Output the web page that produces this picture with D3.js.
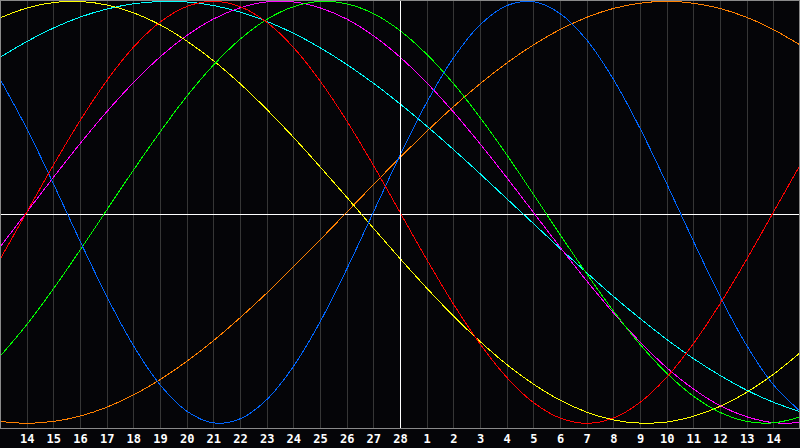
<!DOCTYPE html>
<html><head><meta charset="utf-8">
<script src="https://cdn.jsdelivr.net/npm/d3@7/dist/d3.min.js"></script>
<style>
html,body{margin:0;padding:0;background:#050508;}
svg{display:block;}
</style></head>
<body>
<svg id="chart" width="800" height="448"></svg>
<script>
// Day labels along the bottom (index 0..30, one per day column)
const dayLabels = [13,14,15,16,17,18,19,20,21,22,23,24,25,26,27,28,1,2,3,4,5,6,7,8,9,10,11,12,13,14,15];
const labelIdx = d3.range(1, 30);
const todayIdx = 15;

// Values, one per day, range -1..1
const red = [-0.223,0.000,0.223,0.434,0.623,0.782,0.901,0.975,1.000,0.975,0.901,0.782,0.623,0.434,0.223,0.000,-0.223,-0.434,-0.623,-0.782,-0.901,-0.975,-1.000,-0.975,-0.901,-0.782,-0.623,-0.434,-0.223,0.000,0.223];
const blue = [0.631,0.398,0.136,-0.136,-0.398,-0.631,-0.817,-0.942,-0.998,-0.979,-0.888,-0.731,-0.520,-0.270,0.000,0.270,0.520,0.731,0.888,0.979,0.998,0.942,0.817,0.631,0.398,0.136,-0.136,-0.398,-0.631,-0.817,-0.942];
const green = [-0.683,-0.533,-0.363,-0.180,0.010,0.199,0.380,0.549,0.697,0.820,0.914,0.974,0.999,0.988,0.942,0.861,0.749,0.611,0.450,0.273,0.086,-0.105,-0.291,-0.467,-0.626,-0.762,-0.871,-0.948,-0.991,-0.998,-0.970];
const magenta = [-0.165,0.000,0.165,0.325,0.476,0.614,0.736,0.837,0.916,0.969,0.997,0.997,0.969,0.916,0.837,0.736,0.614,0.476,0.325,0.165,0.000,-0.165,-0.325,-0.476,-0.614,-0.736,-0.837,-0.916,-0.969,-0.997,-0.997];
const yellow = [0.921,0.968,0.994,0.999,0.983,0.946,0.889,0.812,0.719,0.610,0.488,0.356,0.216,0.072,-0.075,-0.219,-0.359,-0.491,-0.612,-0.721,-0.814,-0.890,-0.947,-0.984,-0.999,-0.994,-0.967,-0.920,-0.853,-0.768,-0.666];
const cyan = [0.734,0.809,0.873,0.925,0.963,0.988,0.999,0.997,0.980,0.949,0.905,0.849,0.780,0.701,0.612,0.514,0.409,0.298,0.183,0.065,-0.053,-0.171,-0.286,-0.398,-0.503,-0.602,-0.693,-0.773,-0.843,-0.900,-0.945];
const orange = [-0.991,-1.000,-0.991,-0.966,-0.924,-0.866,-0.793,-0.707,-0.609,-0.500,-0.383,-0.259,-0.131,0.000,0.131,0.259,0.383,0.500,0.609,0.707,0.793,0.866,0.924,0.966,0.991,1.000,0.991,0.966,0.924,0.866,0.793];

const seriesValues = [orange, cyan, magenta, yellow, green, blue, red];
const seriesColors = ["#ff8000","#00ffff","#ff00ff","#ffff00","#00ff00","#0066ff","#ff0000"];

const W = 800, H = 448, plotH = 428;
const svg = d3.select("#chart");
svg.append("rect").attr("width", W).attr("height", H).attr("fill", "#050508");

const x = d3.scaleLinear().domain([0, 30]).range([0, W]);
const y = d3.scaleLinear().domain([-1, 1]).range([423.3, 1.3]);

// vertical grid
svg.append("g").selectAll("line").data(labelIdx).join("line")
  .attr("x1", d => Math.round(x(d)) + 0.5).attr("x2", d => Math.round(x(d)) + 0.5)
  .attr("y1", 0).attr("y2", plotH)
  .attr("stroke", "#363636").attr("stroke-width", 1)
  .attr("shape-rendering", "crispEdges");

// center horizontal line
svg.append("line").attr("x1", 0).attr("x2", W).attr("y1", 214.5).attr("y2", 214.5)
  .attr("stroke", "#ffffff").attr("shape-rendering", "crispEdges");

const line = d3.line().x((d, i) => x(i)).y(d => y(d)).curve(d3.curveCatmullRom.alpha(0.5));
svg.append("g").selectAll("path").data(seriesValues).join("path")
  .attr("d", d => line(d))
  .attr("fill", "none")
  .attr("stroke", (d, i) => seriesColors[i])
  .attr("stroke-width", 1)
  .attr("shape-rendering", "crispEdges");

// today line
svg.append("line").attr("x1", Math.round(x(todayIdx)) + 0.5).attr("x2", Math.round(x(todayIdx)) + 0.5)
  .attr("y1", 0).attr("y2", plotH)
  .attr("stroke", "#ffffff").attr("shape-rendering", "crispEdges");

// border
svg.append("rect").attr("x", 0.5).attr("y", 0.5).attr("width", W - 1).attr("height", plotH - 0.5)
  .attr("fill", "none").attr("stroke", "#8a8a8a").attr("shape-rendering", "crispEdges");

// axis labels
const axis = d3.axisBottom(x).tickValues(labelIdx).tickSize(0)
  .tickFormat(d => dayLabels[d]);
const gx = svg.append("g").attr("transform", `translate(0,${plotH})`).call(axis);
gx.select(".domain").remove();
gx.selectAll("text")
  .attr("y", 15).attr("dy", 0)
  .attr("fill", "#ffffff")
  .attr("font-family", "'DejaVu Sans Mono', monospace")
  .attr("font-weight", "bold")
  .attr("font-size", 12);
</script>
</body></html>
